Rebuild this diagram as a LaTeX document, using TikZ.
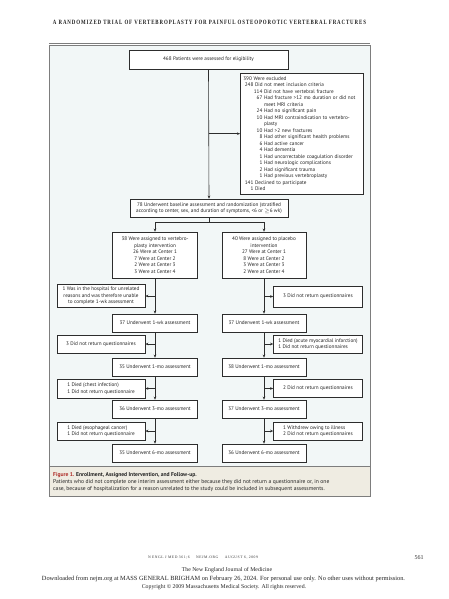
\documentclass[tikz,border=0pt]{standalone}
\usepackage{fontspec}
\setmainfont{Liberation Serif}
\newfontfamily\boxfont{PT Sans}
\usetikzlibrary{arrows.meta}
\definecolor{figbg}{RGB}{242,247,247}
\definecolor{capbg}{RGB}{239,236,226}
\definecolor{framec}{RGB}{125,125,125}
\definecolor{linec}{RGB}{45,45,45}
\definecolor{txtc}{RGB}{35,35,35}
\definecolor{figred}{RGB}{175,45,40}
\newcommand\lvtwo[2]{\hspace*{10pt}\llap{#1}\ #2}
\newcommand\lvthree[2]{\hspace*{19pt}\llap{#1}\ #2}
\newcommand\lvcont[1]{\hspace*{19pt}\ #1}
\tikzset{
  bx/.style={draw=linec, line width=0.7pt, fill=white, text=txtc,
    font=\boxfont\fontsize{5.2}{6.5}\selectfont, align=center, inner sep=1pt,
    minimum height=18pt},
  colL/.style={bx, minimum width=85pt},
  colR/.style={bx, minimum width=84pt},
  sideL/.style={bx, minimum width=88pt},
  sideR/.style={bx, minimum width=89pt},
  arr/.style={draw=linec, line width=0.6pt, -{Stealth[length=3pt,width=2.6pt]}},
  ln/.style={draw=linec, line width=0.6pt},
  plain/.style={inner sep=0pt, text=txtc}
}
\begin{document}
\begin{tikzpicture}[x=1pt,y=-1pt]
\useasboundingbox[fill=white] (0,0) rectangle (449,599);
% header
\node[plain, text=black!88] (hdr) at (209.5,22)
  {\resizebox{313pt}{4.3pt}{\bfseries\addfontfeature{LetterSpace=18}A RANDOMIZED TRIAL OF VERTEBROPLASTY FOR PAINFUL OSTEOPOROTIC VERTEBRAL FRACTURES}};
% frame
\fill[figbg] (49,45) rectangle (370,466);
\fill[capbg] (49,466) rectangle (370,496);
\draw[framec, line width=0.6pt] (49,45) rectangle (370,496);
\draw[framec, line width=0.6pt] (49,466) -- (370,466);
\draw[framec, line width=1.4pt] (49,43.6) -- (370,43.6);
\draw[framec, line width=1.2pt] (49,496.6) -- (370,496.6);

% boxes
\node[bx, minimum width=159pt, minimum height=19pt] (top) at (208.5,59.5)
  {468 Patients were assessed for eligibility};
\node[bx, anchor=north west, align=left, text width=117pt, inner xsep=3pt, inner ysep=3.2pt] (excl) at (240,73)
  {390 Were excluded\\
   \lvtwo{248}{Did not meet inclusion criteria}\\
   \lvthree{114}{Did not have vertebral fracture}\\
   \lvthree{67}{Had fracture >12 mo duration or did not}\\
   \lvcont{meet MRI criteria}\\
   \lvthree{24}{Had no significant pain}\\
   \lvthree{10}{Had MRI contraindication to vertebro-}\\
   \lvcont{plasty}\\
   \lvthree{10}{Had >2 new fractures}\\
   \lvthree{8}{Had other significant health problems}\\
   \lvthree{6}{Had active cancer}\\
   \lvthree{4}{Had dementia}\\
   \lvthree{1}{Had uncorrectable coagulation disorder}\\
   \lvthree{1}{Had neurologic complications}\\
   \lvthree{2}{Had significant trauma}\\
   \lvthree{1}{Had previous vertebroplasty}\\
   \lvtwo{141}{Declined to participate}\\
   \lvtwo{1}{Died}};
\node[bx, minimum width=158pt] (rand) at (209,208)
  {78 Underwent baseline assessment and randomization (stratified\\according to center, sex, and duration of symptoms, <6 or \ensuremath{\geq}6 wk)};
\coordinate (j) at (209,222);

\node[colL, minimum height=46pt] (LA) at (155,255)
  {38 Were assigned to vertebro-\\plasty intervention\\26 Were at Center 1\\7 Were at Center 2\\2 Were at Center 3\\3 Were at Center 4};
\node[colR, minimum height=46pt] (RA) at (264,255)
  {40 Were assigned to placebo\\intervention\\27 Were at Center 1\\8 Were at Center 2\\3 Were at Center 3\\2 Were at Center 4};

\node[sideL, minimum height=23pt] (LE1) at (101,296)
  {1 Was in the hospital for unrelated\\reasons and was therefore unable\\to complete 1-wk assessment};
\node[sideR, minimum height=21pt] (RE1) at (318,296.5) {3 Did not return questionnaires};

\node[colL] (L1) at (155,323) {37 Underwent 1-wk assessment};
\node[colR] (R1) at (264,323) {37 Underwent 1-wk assessment};

\node[sideL] (LE2) at (101,344) {3 Did not return questionnaires};
\node[sideR, align=left] (RE2) at (318,344) {1 Died (acute myocardial infarction)\\1 Did not return questionnaires};

\node[colL] (L2) at (155,367) {35 Underwent 1-mo assessment};
\node[colR] (R2) at (264,367) {38 Underwent 1-mo assessment};

\node[sideL, align=left, minimum height=19pt] (LE3) at (101,388.5) {1 Died (chest infection)\\1 Did not return questionnaire};
\node[sideR] (RE3) at (318,388.5) {2 Did not return questionnaires};

\node[colL] (L3) at (155,409) {36 Underwent 3-mo assessment};
\node[colR] (R3) at (264,409) {37 Underwent 3-mo assessment};

\node[sideL, align=left] (LE4) at (101,431) {1 Died (esophageal cancer)\\1 Did not return questionnaire};
\node[sideR, align=left] (RE4) at (318,431) {1 Withdrew owing to illness\\2 Did not return questionnaires};

\node[colL] (L4) at (155,453) {35 Underwent 6-mo assessment};
\node[colR] (R4) at (264,453) {36 Underwent 6-mo assessment};

% connectors
\draw[arr] (top.south) -- (rand.north);
\draw[arr] (top.south |- excl.west) -- (excl.west);
\draw[ln] (rand.south) -- (j);
\draw[arr] (j) -| (LA.north);
\draw[arr] (j) -| (RA.north);

\draw[arr] (LA.south) -- (L1.north);
\draw[arr] (LA.south |- LE1.east) -- (LE1.east);
\draw[arr] (L1.south) -- (L2.north);
\draw[arr] (L1.south |- LE2.east) -- (LE2.east);
\draw[arr] (L2.south) -- (L3.north);
\draw[arr] (L2.south |- LE3.east) -- (LE3.east);
\draw[arr] (L3.south) -- (L4.north);
\draw[arr] (L3.south |- LE4.east) -- (LE4.east);

\draw[arr] (RA.south) -- (R1.north);
\draw[arr] (RA.south |- RE1.west) -- (RE1.west);
\draw[arr] (R1.south) -- (R2.north);
\draw[arr] (R1.south |- RE2.west) -- (RE2.west);
\draw[arr] (R2.south) -- (R3.north);
\draw[arr] (R2.south |- RE3.west) -- (RE3.west);
\draw[arr] (R3.south) -- (R4.north);
\draw[arr] (R3.south |- RE4.west) -- (RE4.west);

% caption
\node[plain, anchor=west, font=\boxfont\bfseries\fontsize{5.6}{6.5}\selectfont] (capt) at (53,475)
  {\textcolor{figred}{Figure 1.} Enrollment, Assigned Intervention, and Follow-up.};
\node[plain, anchor=north west, align=left, font=\boxfont\fontsize{5.6}{6.5}\selectfont] (capb) at (53,479.5)
  {Patients who did not complete one interim assessment either because they did not return a questionnaire or, in one\\
   case, because of hospitalization for a reason unrelated to the study could be included in subsequent assessments.};

% footer
\node[plain, text=black!80] (foot) at (203,558)
  {\resizebox{110pt}{!}{\fontsize{4.5}{5}\selectfont\addfontfeature{LetterSpace=15}N ENGL J MED 361;6\hspace{6pt} NEJM.ORG\hspace{6pt} AUGUST 6, 2009}};
\node[plain, text=black!80, font=\fontsize{6}{7}\selectfont] (pg) at (419,558) {561};
\node[plain, font=\fontsize{5.8}{7}\selectfont] (j1) at (227,570) {The New England Journal of Medicine};
\node[plain, font=\fontsize{5.8}{7}\selectfont] (j2) at (223.5,579)
  {\resizebox{363pt}{!}{Downloaded from nejm.org at MASS GENERAL BRIGHAM on February 26, 2024. For personal use only. No other uses without permission.}};
\node[plain, font=\fontsize{5.8}{7}\selectfont] (j3) at (224,587.5) {Copyright © 2009 Massachusetts Medical Society. All rights reserved.};
\end{tikzpicture}
\end{document}
